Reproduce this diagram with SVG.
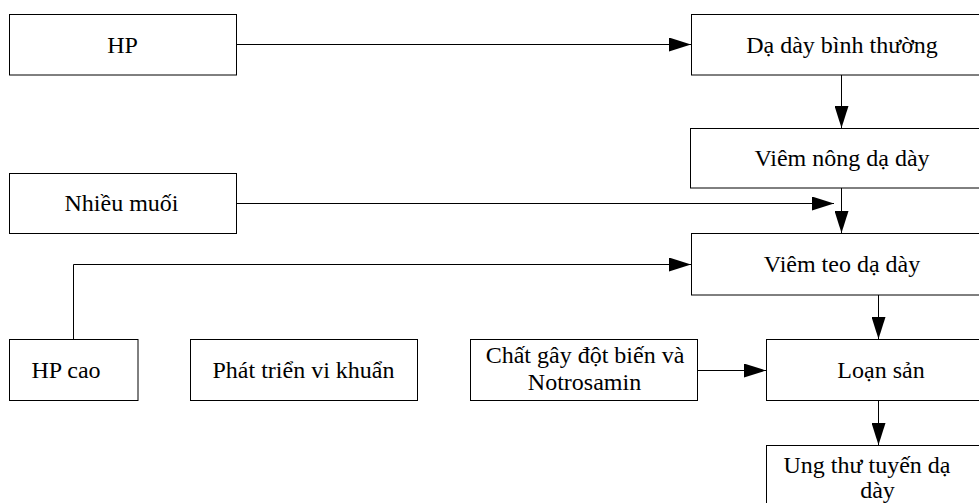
<svg xmlns="http://www.w3.org/2000/svg" width="979" height="503" viewBox="0 0 979 503">
  <style>
    .box { fill: #ffffff; stroke: #000000; stroke-width: 1; }
    .lbl { font-family: "Liberation Serif", "Times New Roman", serif; font-size: 24px; fill: #000000; text-anchor: middle; }
    .conn { fill: none; stroke: #000000; stroke-width: 1; }
  </style>
  <defs>
    <marker id="arrow" markerUnits="userSpaceOnUse" markerWidth="22" markerHeight="14" refX="22" refY="7" orient="auto">
      <path d="M0,0 L22,7 L0,14 Z" fill="#000000"/>
    </marker>
  </defs>
  <rect width="979" height="503" fill="#ffffff"/>

  <g id="nodes">
    <g id="n-hp">
      <rect class="box" x="9.5" y="14.5" width="227" height="60.5"/>
      <text class="lbl" x="122.5" y="52.5">HP</text>
    </g>
    <g id="n-normal">
      <rect class="box" x="691.5" y="14.5" width="300" height="60.5"/>
      <text class="lbl" x="842" y="52.5">Dạ dày bình thường</text>
    </g>
    <g id="n-superficial">
      <rect class="box" x="690.5" y="128.5" width="300" height="59.5"/>
      <text class="lbl" x="842" y="166">Viêm nông dạ dày</text>
    </g>
    <g id="n-salt">
      <rect class="box" x="9.5" y="173.5" width="227" height="60"/>
      <text class="lbl" x="121.5" y="211">Nhiều muối</text>
    </g>
    <g id="n-atrophic">
      <rect class="box" x="691.5" y="233.5" width="300" height="61.5"/>
      <text class="lbl" x="842" y="272">Viêm teo dạ dày</text>
    </g>
    <g id="n-hp-high">
      <rect class="box" x="9.5" y="339.5" width="128.5" height="61"/>
      <text class="lbl" x="66" y="378">HP cao</text>
    </g>
    <g id="n-bacteria">
      <rect class="box" x="190.5" y="339.5" width="227" height="61"/>
      <text class="lbl" x="303.5" y="378">Phát triển vi khuẩn</text>
    </g>
    <g id="n-mutagen">
      <rect class="box" x="470.5" y="339.5" width="227" height="61"/>
      <text class="lbl" x="585" y="363">Chất gây đột biến và</text>
      <text class="lbl" x="584.5" y="390">Notrosamin</text>
    </g>
    <g id="n-dysplasia">
      <rect class="box" x="766.5" y="339.5" width="228" height="61"/>
      <text class="lbl" x="881" y="378">Loạn sản</text>
    </g>
    <g id="n-cancer">
      <rect class="box" x="766.5" y="445.5" width="228" height="70"/>
      <text class="lbl" x="867" y="473">Ung thư tuyến dạ</text>
      <text class="lbl" x="877.5" y="498">dày</text>
    </g>
  </g>

  <g id="connectors">
    <line class="conn" x1="236.5" y1="44.5" x2="691" y2="44.5" marker-end="url(#arrow)"/>
    <line class="conn" x1="841.5" y1="75" x2="841.5" y2="128" marker-end="url(#arrow)"/>
    <line class="conn" x1="236.5" y1="203.5" x2="834" y2="203.5" marker-end="url(#arrow)"/>
    <line class="conn" x1="841.5" y1="188" x2="841.5" y2="233" marker-end="url(#arrow)"/>
    <path class="conn" d="M73.5,339 V264.5 H691" marker-end="url(#arrow)"/>
    <line class="conn" x1="878.5" y1="295" x2="878.5" y2="339" marker-end="url(#arrow)"/>
    <line class="conn" x1="697.5" y1="370.5" x2="766" y2="370.5" marker-end="url(#arrow)"/>
    <line class="conn" x1="878.5" y1="400.5" x2="878.5" y2="445" marker-end="url(#arrow)"/>
  </g>
</svg>
